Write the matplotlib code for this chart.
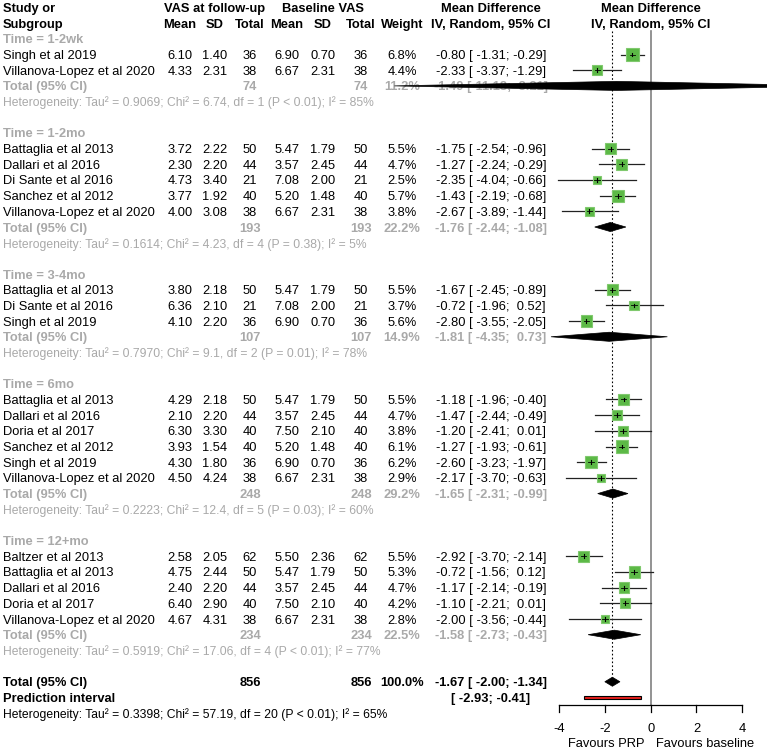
import matplotlib
matplotlib.use("Agg")
import matplotlib.pyplot as plt
from matplotlib.patches import Polygon, Rectangle

plt.rcParams["font.family"] = ["Liberation Sans", "DejaVu Sans"]

# ---- data -------------------------------------------------------------
groups = ["Time = 1-2wk", "Time = 1-2mo", "Time = 3-4mo", "Time = 6mo", "Time = 12+mo"]
study_group = [0, 0, 1, 1, 1, 1, 1, 2, 2, 2, 3, 3, 3, 3, 3, 3, 4, 4, 4, 4, 4]
study_names = [
    "Singh et al 2019", "Villanova-Lopez et al 2020",
    "Battaglia et al 2013", "Dallari et al 2016", "Di Sante et al 2016", "Sanchez et al 2012",
    "Villanova-Lopez et al 2020",
    "Battaglia et al 2013", "Di Sante et al 2016", "Singh et al 2019",
    "Battaglia et al 2013", "Dallari et al 2016", "Doria et al 2017", "Sanchez et al 2012",
    "Singh et al 2019", "Villanova-Lopez et al 2020",
    "Baltzer et al 2013", "Battaglia et al 2013", "Dallari et al 2016", "Doria et al 2017",
    "Villanova-Lopez et al 2020",
]
fu_mean = [6.10, 4.33, 3.72, 2.30, 4.73, 3.77, 4.00, 3.80, 6.36, 4.10,
           4.29, 2.10, 6.30, 3.93, 4.30, 4.50, 2.58, 4.75, 2.40, 6.40, 4.67]
fu_sd = [1.40, 2.31, 2.22, 2.20, 3.40, 1.92, 3.08, 2.18, 2.10, 2.20,
         2.18, 2.20, 3.30, 1.54, 1.80, 4.24, 2.05, 2.44, 2.20, 2.90, 4.31]
fu_n = [36, 38, 50, 44, 21, 40, 38, 50, 21, 36, 50, 44, 40, 40, 36, 38, 62, 50, 44, 40, 38]
bl_mean = [6.90, 6.67, 5.47, 3.57, 7.08, 5.20, 6.67, 5.47, 7.08, 6.90,
           5.47, 3.57, 7.50, 5.20, 6.90, 6.67, 5.50, 5.47, 3.57, 7.50, 6.67]
bl_sd = [0.70, 2.31, 1.79, 2.45, 2.00, 1.48, 2.31, 1.79, 2.00, 0.70,
         1.79, 2.45, 2.10, 1.48, 0.70, 2.31, 2.36, 1.79, 2.45, 2.10, 2.31]
bl_n = [36, 38, 50, 44, 21, 40, 38, 50, 21, 36, 50, 44, 40, 40, 36, 38, 62, 50, 44, 40, 38]
weight = [6.8, 4.4, 5.5, 4.7, 2.5, 5.7, 3.8, 5.5, 3.7, 5.6,
          5.5, 4.7, 3.8, 6.1, 6.2, 2.9, 5.5, 5.3, 4.7, 4.2, 2.8]
md = [-0.80, -2.33, -1.75, -1.27, -2.35, -1.43, -2.67, -1.67, -0.72, -2.80,
      -1.18, -1.47, -1.20, -1.27, -2.60, -2.17, -2.92, -0.72, -1.17, -1.10, -2.00]
md_lo = [-1.31, -3.37, -2.54, -2.24, -4.04, -2.19, -3.89, -2.45, -1.96, -3.55,
         -1.96, -2.44, -2.41, -1.93, -3.23, -3.70, -3.70, -1.56, -2.14, -2.21, -3.56]
md_hi = [-0.29, -1.29, -0.96, -0.29, -0.66, -0.68, -1.44, -0.89, 0.52, -2.05,
         -0.40, -0.49, 0.01, -0.61, -1.97, -0.63, -2.14, 0.12, -0.19, 0.01, -0.44]

sub_n = [74, 193, 107, 248, 234]
sub_weight = [11.2, 22.2, 14.9, 29.2, 22.5]
sub_md = [-1.49, -1.76, -1.81, -1.65, -1.58]
sub_lo = [-11.18, -2.44, -4.35, -2.31, -2.73]
sub_hi = [8.21, -1.08, 0.73, -0.99, -0.43]
sub_tau2 = ["0.9069", "0.1614", "0.7970", "0.2223", "0.5919"]
sub_chi2 = ["6.74", "4.23", "9.1", "12.4", "17.06"]
sub_df = [1, 4, 2, 5, 4]
sub_p = ["P < 0.01", "P = 0.38", "P = 0.01", "P = 0.03", "P < 0.01"]
sub_i2 = [85, 5, 78, 60, 77]

total_n = 856
total_md, total_lo, total_hi = -1.67, -2.00, -1.34
pred_lo, pred_hi = -2.93, -0.41
total_het = "Heterogeneity: Tau² = 0.3398; Chi² = 57.19, df = 20 (P < 0.01); I² = 65%"
x_ticks = [-4, -2, 0, 2, 4]

# ---- layout -----------------------------------------------------------
ROW0, ROWH, H = 7.5, 15.68, 751
ylim = ((H - ROW0) / ROWH, -ROW0 / ROWH)
FS = 9.3
GRAY = "#a9a9a9"
SQ_FILL, SQ_EDGE = "#5cb946", "#80c96e"
col = dict(study=3, fm=180, fsd=215, fn=250, bm=287, bsd=323, bn=361, w=402, md=491)

fig = plt.figure(figsize=(7.67, 7.51), dpi=100)
ax = fig.add_axes([0, 0, 1, 1])
ax.set_xlim(0, 767)
ax.set_ylim(*ylim)
ax.axis("off")
fax = fig.add_axes([559 / 767, 0, (742.3 - 559) / 767, 1])
fax.set_xlim(-4, 4)
fax.set_ylim(*ylim)
fax.axis("off")


def txt(x, y, s, ha="center", color="black", bold=False, size=FS):
    ax.text(x, y, s, ha=ha, va="center_baseline", color=color, fontsize=size,
            fontweight="bold" if bold else "normal")


def ci_text(m, lo, hi):
    return f"{m:.2f} [{lo:6.2f}; {hi:5.2f}]"


def diamond(y, m, lo, hi, half=0.29):
    fax.add_patch(Polygon([(lo, y), (m, y - half), (hi, y), (m, y + half)], closed=True,
                          facecolor="black", edgecolor="black", lw=0.5, clip_on=False, zorder=4))


# header
txt(col["study"], 0, "Study or", ha="left", bold=True)
txt(col["study"], 1, "Subgroup", ha="left", bold=True)
txt(col["fsd"], 0, "VAS at follow-up", bold=True)
txt(col["bsd"], 0, "Baseline VAS", bold=True)
for key in ["fm", "bm"]:
    txt(col[key], 1, "Mean", bold=True)
for key in ["fsd", "bsd"]:
    txt(col[key], 1, "SD", bold=True)
for key in ["fn", "bn"]:
    txt(col[key], 1, "Total", bold=True)
txt(col["w"], 1, "Weight", bold=True)
txt(col["md"], 0, "Mean Difference", bold=True)
txt(col["md"], 1, "IV, Random, 95% CI", bold=True)
fax.text(0, 0, "Mean Difference", ha="center", va="center_baseline", fontsize=FS, fontweight="bold")
fax.text(0, 1, "IV, Random, 95% CI", ha="center", va="center_baseline", fontsize=FS, fontweight="bold")

row = 2
for g, gname in enumerate(groups):
    txt(col["study"], row, gname, ha="left", color=GRAY, bold=True)
    row += 1
    for i in [k for k, sg in enumerate(study_group) if sg == g]:
        txt(col["study"], row, study_names[i], ha="left")
        txt(col["fm"], row, f"{fu_mean[i]:.2f}")
        txt(col["fsd"], row, f"{fu_sd[i]:.2f}")
        txt(col["fn"], row, f"{fu_n[i]}")
        txt(col["bm"], row, f"{bl_mean[i]:.2f}")
        txt(col["bsd"], row, f"{bl_sd[i]:.2f}")
        txt(col["bn"], row, f"{bl_n[i]}")
        txt(col["w"], row, f"{weight[i]:.1f}%")
        txt(col["md"], row, ci_text(md[i], md_lo[i], md_hi[i]))
        fax.plot([md_lo[i], md_hi[i]], [row, row], color="#222222", lw=0.9, zorder=2, clip_on=False)
        side_px = 4.9 * weight[i] ** 0.5
        w_data = side_px / (183.3 / 8)
        h_rows = side_px / ROWH
        fax.add_patch(Rectangle((md[i] - w_data / 2, row - h_rows / 2), w_data, h_rows,
                                facecolor=SQ_FILL, edgecolor=SQ_EDGE, lw=0.8, zorder=3))
        fax.plot([md[i], md[i]], [row - 0.12, row + 0.12], color="black", lw=0.8, zorder=4)
        fax.plot([md[i] - 0.12, md[i] + 0.12], [row, row], color="black", lw=0.6, zorder=4)
        row += 1
    txt(col["study"], row, "Total (95% CI)", ha="left", color=GRAY, bold=True)
    txt(col["fn"], row, f"{sub_n[g]}", color=GRAY, bold=True)
    txt(col["bn"], row, f"{sub_n[g]}", color=GRAY, bold=True)
    txt(col["w"], row, f"{sub_weight[g]:.1f}%", color=GRAY, bold=True)
    txt(col["md"], row, ci_text(sub_md[g], sub_lo[g], sub_hi[g]), color=GRAY, bold=True)
    diamond(row, sub_md[g], sub_lo[g], sub_hi[g])
    row += 1
    het = (f"Heterogeneity: Tau² = {sub_tau2[g]}; Chi² = {sub_chi2[g]}, "
           f"df = {sub_df[g]} ({sub_p[g]}); I² = {sub_i2[g]}%")
    txt(col["study"], row, het, ha="left", color=GRAY, size=FS - 0.6)
    row += 2

# overall
txt(col["study"], row, "Total (95% CI)", ha="left", bold=True)
txt(col["fn"], row, f"{total_n}", bold=True)
txt(col["bn"], row, f"{total_n}", bold=True)
txt(col["w"], row, "100.0%", bold=True)
txt(col["md"], row, ci_text(total_md, total_lo, total_hi), bold=True)
diamond(row, total_md, total_lo, total_hi)
total_row = row
row += 1
txt(col["study"], row, "Prediction interval", ha="left", bold=True)
txt(col["md"], row, f"[{pred_lo:6.2f}; {pred_hi:5.2f}]", bold=True)
fax.add_patch(Rectangle((pred_lo, row - 0.12), pred_hi - pred_lo, 0.24,
                        facecolor="#e8201c", edgecolor="black", lw=0.8, zorder=4))
row += 1
txt(col["study"], row, total_het, ha="left", size=FS - 0.6)

# reference lines
axis_row = 44.5
fax.plot([0, 0], [1.5, axis_row], color="#808080", lw=1.2, zorder=1, clip_on=False)
fax.plot([total_md, total_md], [1.5, total_row - 0.29], color="black", lw=0.8,
         linestyle=(0, (1.5, 2)), zorder=1)

# x axis
fax.plot([x_ticks[0], x_ticks[-1]], [axis_row, axis_row], color="black", lw=0.9, clip_on=False)
for t in x_ticks:
    fax.plot([t, t], [axis_row, axis_row + 0.45], color="black", lw=0.9, clip_on=False)
    fax.text(t, 45.95, f"{t}", ha="center", va="center_baseline", fontsize=FS)
fax.text(-0.25, 46.9, "Favours PRP", ha="right", va="center_baseline", fontsize=FS)
fax.text(0.25, 46.9, "Favours baseline", ha="left", va="center_baseline", fontsize=FS)

fig.savefig("out.png", dpi=100)
